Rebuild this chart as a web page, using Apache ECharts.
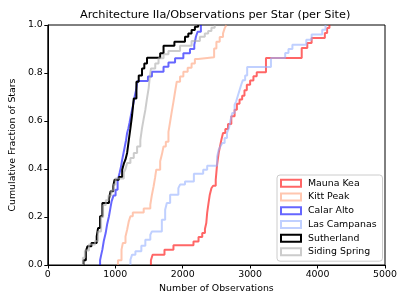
<!DOCTYPE html>
<html>
<head>
<meta charset="utf-8">
<script src="https://cdn.jsdelivr.net/npm/echarts@6/dist/echarts.min.js"></script>
<style>
html,body{margin:0;padding:0;background:#fff;}
#chart{width:407px;height:305px;}
</style>
</head>
<body>
<div id="chart"></div>
<script>
// Site names (legend order)
var sites = ['Mauna Kea', 'Kitt Peak', 'Calar Alto', 'Las Campanas', 'Sutherland', 'Siding Spring'];

// Axis ticks
var xTicks = [0, 1000, 2000, 3000, 4000, 5000];
var yTicks = [0.0, 0.2, 0.4, 0.6, 0.8, 1.0];

// Cumulative step data: number of observations at each step, and cumulative fraction reached there
var maunaKeaObs = [1529,1554,1730,1863,2160,2235,2290,2330,2350,2363,2383,2402,2426,2451,2490,2510,2534,2549,2574,2598,2632,2672,2721,2770,2804,2843,2882,2916,2951,3000,3049,3098,3235,3765,3848,3912,4108,4142,4176];
var maunaKeaFrac = [0.02,0.043,0.064,0.082,0.098,0.117,0.133,0.15,0.175,0.217,0.258,0.293,0.32,0.33,0.355,0.418,0.467,0.488,0.522,0.55,0.567,0.587,0.62,0.647,0.672,0.69,0.705,0.728,0.751,0.769,0.786,0.803,0.862,0.904,0.925,0.946,0.967,0.988,1.0];

var kittPeakObs = [1040,1093,1113,1152,1176,1201,1225,1260,1422,1520,1544,1569,1590,1608,1666,1691,1716,1750,1789,1814,1838,1863,1887,1912,1961,2010,2074,2132,2181,2230,2466,2500,2549,2598,2622,2647];
var kittPeakFrac = [0.02,0.064,0.092,0.119,0.147,0.182,0.203,0.219,0.235,0.251,0.293,0.328,0.363,0.397,0.432,0.46,0.494,0.514,0.555,0.597,0.639,0.68,0.722,0.764,0.785,0.805,0.822,0.84,0.858,0.866,0.902,0.93,0.95,0.965,0.986,1.0];

var calarAltoObs = [775,790,809,830,858,880,907,930,946,975,1005,1035,1064,1085,1103,1125,1142,1160,1176,1195,1211,1230,1250,1270,1289,1310,1330,1485,1544,1716,1789,1887,2010,2108,2172,2196,2221,2270];
var calarAltoFrac = [0.02,0.04,0.064,0.1,0.133,0.17,0.203,0.24,0.265,0.29,0.314,0.35,0.383,0.41,0.439,0.47,0.494,0.52,0.55,0.57,0.592,0.62,0.647,0.675,0.703,0.73,0.767,0.785,0.805,0.826,0.844,0.861,0.882,0.9,0.917,0.951,0.972,1.0];

var lasCampanasObs = [1225,1250,1299,1387,1446,1520,1544,1691,1740,1765,1814,1936,1961,2034,2166,2304,2363,2510,2534,2559,2588,2622,2657,2686,2711,2735,2770,2794,2818,2843,2868,2892,2926,2956,3309,3520,3569,3627,3833,3912,4069,4118];
var lasCampanasFrac = [0.022,0.043,0.057,0.08,0.105,0.126,0.14,0.189,0.23,0.258,0.293,0.32,0.335,0.348,0.38,0.397,0.414,0.45,0.48,0.494,0.508,0.529,0.55,0.571,0.605,0.633,0.668,0.682,0.705,0.728,0.751,0.77,0.79,0.825,0.862,0.883,0.9,0.918,0.939,0.96,0.98,1.0];

var sutherlandObs = [529,564,588,647,725,745,775,809,907,931,970,990,1054,1103,1127,1152,1176,1201,1225,1250,1275,1314,1348,1397,1431,1471,1666,1716,1877,2034,2083,2132,2181,2230];
var sutherlandFrac = [0.02,0.057,0.078,0.092,0.119,0.154,0.203,0.258,0.275,0.307,0.328,0.355,0.367,0.397,0.422,0.44,0.467,0.52,0.57,0.625,0.694,0.764,0.79,0.819,0.84,0.864,0.882,0.914,0.93,0.951,0.965,0.979,0.993,1.0];

var sidingSpringObs = [520,550,610,700,745,790,820,860,900,940,975,1005,1127,1152,1176,1225,1275,1324,1372,1397,1422,1446,1471,1495,1510,1530,1593,1642,1716,1789,1961,2132,2255,2328,2378,2426,2475];
var sidingSpringFrac = [0.03,0.06,0.085,0.1,0.14,0.2,0.25,0.27,0.29,0.31,0.335,0.36,0.385,0.4,0.425,0.446,0.467,0.494,0.52,0.57,0.61,0.646,0.694,0.736,0.778,0.819,0.84,0.861,0.878,0.892,0.914,0.933,0.951,0.965,0.975,0.989,1.0];

var obsList = [maunaKeaObs, kittPeakObs, calarAltoObs, lasCampanasObs, sutherlandObs, sidingSpringObs];
var fracList = [maunaKeaFrac, kittPeakFrac, calarAltoFrac, lasCampanasFrac, sutherlandFrac, sidingSpringFrac];
var colors = ['#ff0000', '#ffa07a', '#0000ff', '#96b1ff', '#000000', '#aaaaaa'];
var opacities = [0.6, 0.6, 0.6, 0.6, 1.0, 0.6];

var FONT = 'DejaVu Sans';

function buildPoints(obs, frac) {
  var pts = [[obs[0], 0]];
  for (var i = 0; i < obs.length; i++) pts.push([obs[i], frac[i]]);
  return pts;
}

var series = sites.map(function (name, i) {
  return {
    name: name,
    type: 'line',
    step: 'end',
    data: buildPoints(obsList[i], fracList[i]),
    showSymbol: false,
    symbol: 'none',
    clip: true,
    lineStyle: { color: colors[i], width: 2, opacity: opacities[i] },
    itemStyle: { color: colors[i], opacity: opacities[i] },
    emphasis: { disabled: true },
    animation: false
  };
});

var chart = echarts.init(document.getElementById('chart'), null, { renderer: 'canvas' });
chart.setOption({
  animation: false,
  backgroundColor: '#fff',
  title: {
    text: 'Architecture IIa/Observations per Star (per Site)',
    left: 80,
    top: 10,
    padding: 0,
    textStyle: { fontFamily: FONT, fontSize: 11.3, fontWeight: 'normal', color: '#000' }
  },
  grid: {
    left: 45, top: 25, width: 340, height: 240,
    show: true, borderColor: '#000', borderWidth: 1, backgroundColor: 'transparent'
  },
  legend: {
    orient: 'vertical',
    left: 277,
    top: 175,
    padding: [3, 6, 4, 3],
    itemGap: 3,
    itemWidth: 20,
    itemHeight: 7,
    backgroundColor: 'rgba(255,255,255,0.8)',
    borderColor: '#cccccc',
    borderWidth: 1,
    borderRadius: 3,
    selectedMode: false,
    textStyle: { fontFamily: FONT, fontSize: 9.4, color: '#000', lineHeight: 10.7, padding: [0, 0, 0, 2] },
    data: sites.map(function (name, i) {
      return {
        name: name,
        icon: 'rect',
        itemStyle: { color: 'transparent', borderColor: colors[i], borderWidth: 2, opacity: opacities[i] }
      };
    })
  },
  xAxis: {
    type: 'value',
    min: xTicks[0],
    max: xTicks[xTicks.length - 1],
    interval: 1000,
    name: 'Number of Observations',
    nameLocation: 'middle',
    nameGap: 18,
    nameTextStyle: { fontFamily: FONT, fontSize: 9.4, color: '#000' },
    axisLine: { show: true, onZero: false, lineStyle: { color: '#000', width: 1 } },
    axisTick: { show: true, inside: false, length: 3.5, lineStyle: { color: '#000' } },
    axisLabel: {
      fontFamily: FONT, fontSize: 9.4, color: '#000', margin: 5,
      formatter: function (v) { return String(Math.round(v)); }
    },
    splitLine: { show: false }
  },
  yAxis: {
    type: 'value',
    min: yTicks[0],
    max: yTicks[yTicks.length - 1],
    interval: 0.2,
    name: 'Cumulative Fraction of Stars',
    nameLocation: 'middle',
    nameGap: 25,
    nameTextStyle: { fontFamily: FONT, fontSize: 9.4, color: '#000' },
    axisLine: { show: true, onZero: false, lineStyle: { color: '#000', width: 1 } },
    axisTick: { show: true, inside: false, length: 3.5, lineStyle: { color: '#000' } },
    axisLabel: {
      fontFamily: FONT, fontSize: 9.4, color: '#000', margin: 5,
      formatter: function (v) { return v.toFixed(1); }
    },
    splitLine: { show: false }
  },
  series: series
});
</script>
</body>
</html>
